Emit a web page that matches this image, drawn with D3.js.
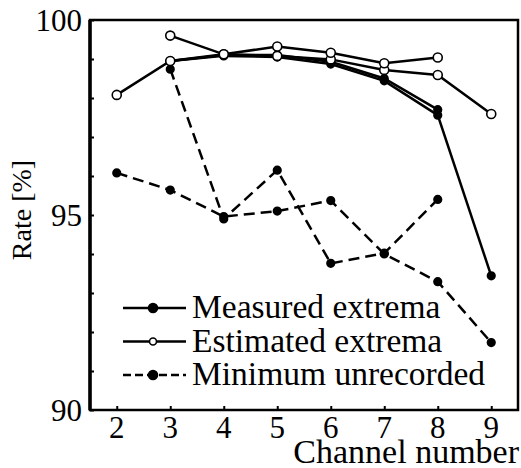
<!DOCTYPE html>
<html>
<head>
<meta charset="utf-8">
<script src="https://cdn.jsdelivr.net/npm/d3@7"></script>
<style>
  html, body { margin: 0; padding: 0; background: #fff; }
</style>
</head>
<body>
<div id="chart"></div>
<script>
// -DATA-
const channels = [2, 3, 4, 5, 6, 7, 8, 9];
const yTicks = [90, 95, 100];

// estimated extrema (open circles)
const estHigh = [null, 99.6, 99.12, 99.32, 99.16, 98.89, 99.04, null];
const estLow = [98.08, 98.95, 99.12, 99.08, 98.99, 98.72, 98.59, 97.59];
// measured extrema (filled dots)
const measA = [null, 98.95, 99.1, 99.1, 98.93, 98.5, 97.7, null];
const measB = [null, 98.95, 99.08, 99.05, 98.87, 98.44, 97.56, 93.44];
// minimum unrecorded (dashed)
const minA = [96.08, 95.64, 94.96, 95.1, 95.37, 94.0, 93.29, 91.73];
const minB = [null, 98.74, 94.9, 96.15, 93.76, 94.02, 95.4, null];

const legendLabels = ["Measured extrema", "Estimated extrema", "Minimum unrecorded"];

// -SIZES-
const W = 521, H = 468;
const mLeft = 90, mRight = 518, mTop = 20, mBottom = 410;
const serif = "'Liberation Serif'";

const svg = d3.select("#chart").append("svg")
    .attr("width", W)
    .attr("height", H)
    .style("display", "block");

const x = d3.scaleLinear().domain([1.5, 9.5]).range([mLeft, mRight]);
const y = d3.scaleLinear().domain([90, 100]).range([mBottom, mTop]);

// frame
svg.append("rect")
    .attr("x", mLeft).attr("y", mTop)
    .attr("width", mRight - mLeft).attr("height", mBottom - mTop)
    .attr("fill", "none").attr("stroke", "#000").attr("stroke-width", 2.5);
svg.append("line")
    .attr("x1", mLeft).attr("x2", mLeft).attr("y1", mTop).attr("y2", mBottom)
    .attr("stroke", "#000").attr("stroke-width", 3.5);

// y axis: minor ticks every 1, labels at 90/95/100
const yAxis = d3.axisRight(y)
    .tickValues(d3.range(90, 101, 1))
    .tickSize(4)
    .tickFormat("");
svg.append("g")
    .attr("transform", "translate(" + mLeft + ",0)")
    .call(yAxis)
    .call(g => g.select(".domain").remove())
    .call(g => g.selectAll("line").attr("stroke-width", 2));

svg.append("g").selectAll("text")
    .data(yTicks)
    .enter()
    .append("text")
    .attr("x", mLeft - 8)
    .attr("y", d => y(d))
    .attr("dy", "0.35em")
    .attr("text-anchor", "end")
    .style("font-family", serif)
    .style("font-size", "31px")
    .text(d => d);

// x axis
const xAxis = d3.axisTop(x)
    .tickValues(channels)
    .tickSize(4)
    .tickFormat("");
svg.append("g")
    .attr("transform", "translate(0," + mBottom + ")")
    .call(xAxis)
    .call(g => g.select(".domain").remove())
    .call(g => g.selectAll("line").attr("stroke-width", 2));

svg.append("g").selectAll("text")
    .data(channels)
    .enter()
    .append("text")
    .attr("x", d => x(d))
    .attr("y", 438)
    .attr("text-anchor", "middle")
    .style("font-family", serif)
    .style("font-size", "31px")
    .text(d => d);

// axis titles
svg.append("text")
    .attr("x", 519)
    .attr("y", 463)
    .attr("text-anchor", "end")
    .style("font-family", serif)
    .style("font-size", "34px")
    .text("Channel number");

svg.append("text")
    .attr("transform", "translate(31,210) rotate(-90)")
    .attr("text-anchor", "middle")
    .style("font-family", serif)
    .style("font-size", "28px")
    .text("Rate [%]");

// -SERIES-
const line = d3.line()
    .defined(d => d.v !== null)
    .x(d => x(d.c))
    .y(d => y(d.v));

const series = [
    { vals: minA, dash: "11,6", fill: "#000" },
    { vals: minB, dash: "11,6", fill: "#000" },
    { vals: measA, dash: null, fill: "#000" },
    { vals: measB, dash: null, fill: "#000" },
    { vals: estLow, dash: null, fill: "#fff" },
    { vals: estHigh, dash: null, fill: "#fff" }
];

series.forEach(s => {
    const pts = channels.map((c, i) => ({ c: c, v: s.vals[i] }));
    svg.append("path")
        .datum(pts)
        .attr("d", line)
        .attr("fill", "none")
        .attr("stroke", "#000")
        .attr("stroke-width", 2.5)
        .attr("stroke-dasharray", s.dash);
    svg.append("g").selectAll("circle")
        .data(pts.filter(d => d.v !== null))
        .enter()
        .append("circle")
        .attr("cx", d => x(d.c))
        .attr("cy", d => y(d.v))
        .attr("r", s.fill === "#fff" ? 4.5 : 3.8)
        .attr("fill", s.fill)
        .attr("stroke", "#000")
        .attr("stroke-width", 1.6);
});

// -LEGEND-
const legendStyles = [
    { dash: null, fill: "#000", r: 4.5 },
    { dash: null, fill: "#fff", r: 3.5 },
    { dash: "8,4", fill: "#000", r: 4.5 }
];
const legend = svg.append("g").attr("id", "legend");
legendLabels.forEach((lab, i) => {
    const ly = 308 + i * 33.5;
    legend.append("line")
        .attr("x1", 123).attr("x2", 186)
        .attr("y1", ly).attr("y2", ly)
        .attr("stroke", "#000")
        .attr("stroke-width", 2.5)
        .attr("stroke-dasharray", legendStyles[i].dash);
    legend.append("circle")
        .attr("cx", 153).attr("cy", ly)
        .attr("r", legendStyles[i].r)
        .attr("fill", legendStyles[i].fill)
        .attr("stroke", "#000")
        .attr("stroke-width", 1.6);
    legend.append("text")
        .attr("x", 192)
        .attr("y", ly + 10)
        .style("font-family", serif)
        .style("font-size", "33.5px")
        .text(lab);
});
</script>
</body>
</html>
